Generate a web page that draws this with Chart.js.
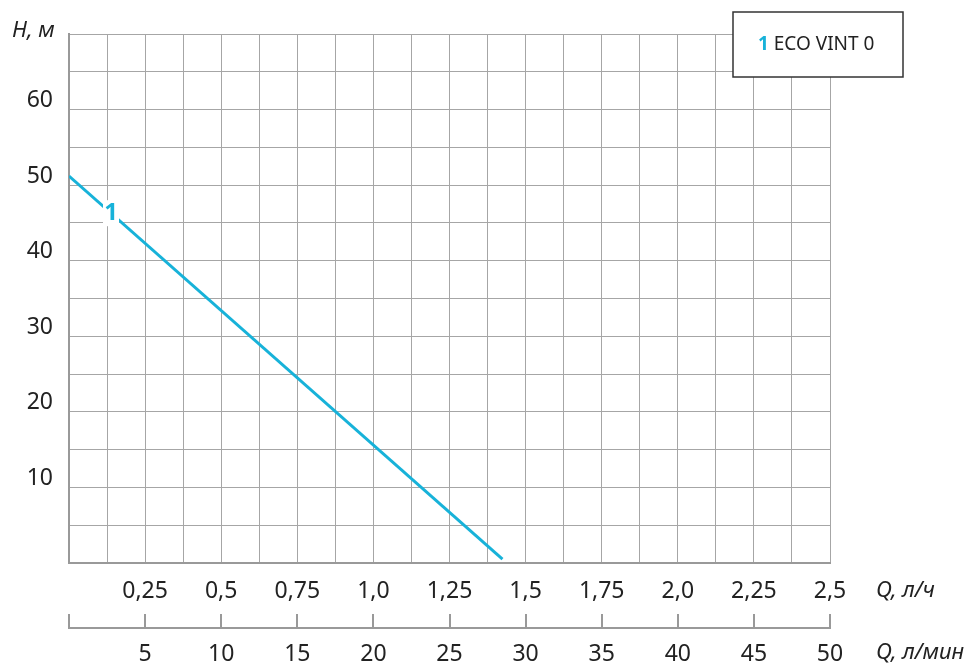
<!DOCTYPE html>
<html>
<head>
<meta charset="utf-8">
<script src="https://cdn.jsdelivr.net/npm/chart.js@4"></script>
<style>
  html, body { margin: 0; padding: 0; background: #fff; }
  #wrap { width: 969px; height: 666px; position: relative; }
</style>
</head>
<body>
<div id="wrap"><canvas id="pumpChart"></canvas></div>
<script>
// Pump curve data (Q in l/h, H in m)
const flowQ = [0, 1.424];
const headH = [51.2, 0.5];

// Tick labels
const qHourLabels = ['0,25', '0,5', '0,75', '1,0', '1,25', '1,5', '1,75', '2,0', '2,25', '2,5'];
const qMinLabels = ['5', '10', '15', '20', '25', '30', '35', '40', '45', '50'];
const headLabels = ['10', '20', '30', '40', '50', '60'];

const seriesName = 'ECO VINT 0';
const seriesNo = '1';
const lineColor = '#17b2d9';
const gridColor = '#a6a6a6';
const axisColor = '#999999';
const fontFamily = '"Noto Sans", "Open Sans", sans-serif';

// where the "1" marker sits on the curve
const markerQ = 0.138;

function curveAt(q) {
  const t = (q - flowQ[0]) / (flowQ[1] - flowQ[0]);
  return headH[0] + t * (headH[1] - headH[0]);
}

const extras = {
  id: 'extras',
  beforeDraw(chart) {
    const ctx = chart.ctx;
    ctx.save();
    ctx.fillStyle = '#fff';
    ctx.fillRect(0, 0, chart.width, chart.height);
    ctx.restore();
  },
  afterDatasetsDraw(chart) {
    const ctx = chart.ctx;
    const xs = chart.scales.x, ys = chart.scales.y;
    const px = xs.getPixelForValue(markerQ);
    const py = ys.getPixelForValue(curveAt(markerQ));
    ctx.save();
    ctx.font = 'bold 24px ' + fontFamily;
    ctx.fillStyle = '#fff';
    ctx.fillRect(px - 8, py - 13, 16, 26);
    ctx.fillStyle = lineColor;
    ctx.textAlign = 'center';
    ctx.textBaseline = 'middle';
    ctx.fillText(seriesNo, px, py);
    ctx.restore();
  },
  afterDraw(chart) {
    const ctx = chart.ctx;
    ctx.save();
    // axis titles
    ctx.font = 'italic 22px ' + fontFamily;
    ctx.fillStyle = '#222';
    ctx.textBaseline = 'middle';
    ctx.textAlign = 'left';
    ctx.fillText('H, м', 12, 31);
    ctx.fillText('Q, л/ч', 876, 591);
    ctx.fillText('Q, л/мин', 876, 653);

    // legend box
    ctx.fillStyle = '#fff';
    ctx.fillRect(733, 12, 170, 65);
    ctx.strokeStyle = '#333';
    ctx.lineWidth = 1.5;
    ctx.strokeRect(733, 12, 170, 65);
    ctx.font = 'bold 19px ' + fontFamily;
    ctx.fillStyle = lineColor;
    ctx.fillText(seriesNo, 758, 45);
    const w = ctx.measureText(seriesNo + ' ').width;
    ctx.font = '19px ' + fontFamily;
    ctx.fillStyle = '#222';
    ctx.fillText(seriesName, 758 + w, 45);
    ctx.restore();
  }
};

function hourLabel(v) {
  const i = Math.round(v / 0.25);
  if (i > 0 && Math.abs(v - i * 0.25) < 1e-6) return qHourLabels[i - 1];
  return '';
}

const ctx = document.getElementById('pumpChart').getContext('2d');
new Chart(ctx, {
  type: 'line',
  data: {
    datasets: [{
      label: seriesName,
      data: flowQ.map((q, i) => ({ x: q, y: headH[i] })),
      borderColor: lineColor,
      borderWidth: 3,
      pointRadius: 0,
      tension: 0,
      xAxisID: 'x',
      yAxisID: 'y'
    }]
  },
  options: {
    responsive: true,
    maintainAspectRatio: false,
    animation: false,
    layout: { padding: { left: 0, top: 34, right: 139, bottom: 0 } },
    plugins: {
      legend: { display: false },
      tooltip: { enabled: false }
    },
    scales: {
      x: {
        type: 'linear',
        position: 'bottom',
        weight: 0,
        min: 0,
        max: 2.5,
        afterBuildTicks(scale) {
          const t = [];
          for (let i = 0; i <= 20; i++) t.push({ value: i * 0.125 });
          scale.ticks = t;
        },
        afterFit(scale) { scale.height = 65; },
        grid: { color: gridColor, lineWidth: 1, drawTicks: false },
        border: { color: axisColor, width: 2 },
        ticks: {
          autoSkip: false,
          maxRotation: 0,
          padding: 15,
          color: '#222',
          font: { family: fontFamily, size: 23 },
          callback: (v) => hourLabel(v)
        }
      },
      x2: {
        type: 'linear',
        position: 'bottom',
        weight: 1,
        min: 0,
        max: 50,
        afterBuildTicks(scale) {
          const t = [{ value: 0 }];
          qMinLabels.forEach(l => t.push({ value: Number(l) }));
          scale.ticks = t;
        },
        afterFit(scale) { scale.height = 38; },
        grid: { drawOnChartArea: false, drawTicks: true, tickLength: -14, color: axisColor, lineWidth: 2 },
        border: { color: axisColor, width: 2 },
        ticks: {
          autoSkip: false,
          maxRotation: 0,
          padding: 27,
          color: '#222',
          font: { family: fontFamily, size: 23 },
          callback: (v) => v > 0 ? qMinLabels[Math.round(v / 5) - 1] : ''
        }
      },
      y: {
        type: 'linear',
        position: 'left',
        min: 0,
        max: 70,
        afterBuildTicks(scale) {
          const t = [];
          for (let v = 0; v <= 70; v += 5) t.push({ value: v });
          scale.ticks = t;
        },
        afterFit(scale) { scale.width = 69; },
        grid: { color: gridColor, lineWidth: 1, drawTicks: false },
        border: { color: axisColor, width: 2 },
        ticks: {
          autoSkip: false,
          padding: 16,
          labelOffset: -9,
          color: '#222',
          font: { family: fontFamily, size: 23 },
          callback: (v) => headLabels.includes(String(v)) ? String(v) : ''
        }
      }
    }
  },
  plugins: [extras]
});
</script>
</body>
</html>
